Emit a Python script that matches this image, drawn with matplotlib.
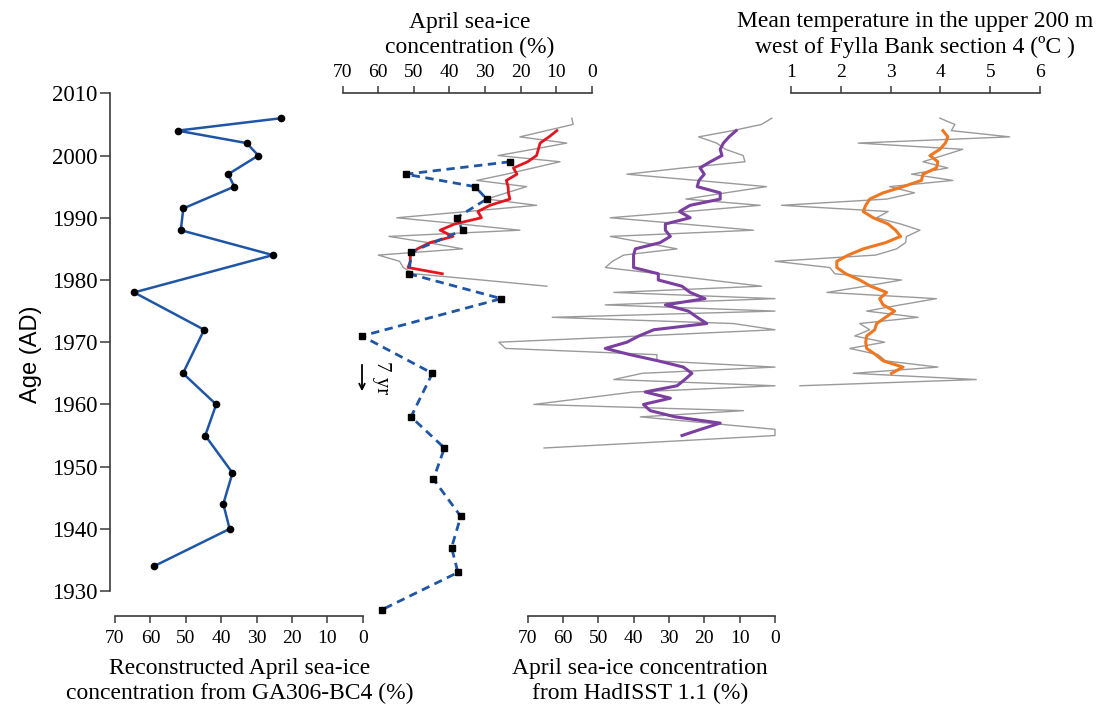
import numpy as np
import matplotlib.pyplot as plt

# GA306-BC4 reconstructed April sea-ice concentration (%)
recon_years = [2006, 2004, 2002, 2000, 1997, 1995, 1991.5, 1988, 1984, 1978,
               1972, 1965, 1960, 1955, 1949, 1944, 1940, 1934]
recon_ice = [23, 52.3, 32.8, 29.5, 38, 36.3, 50.7, 51.4, 25.4, 64.6,
             44.8, 50.8, 41.4, 44.5, 36.8, 39.4, 37.6, 59]
lag = 7  # years the record is shifted down in the middle panel

# April sea-ice concentration (%), local series, with running mean
ice_years = np.arange(1979, 2007)
ice_local = [12.6, 31, 50, 53, 54, 60, 36.3, 46, 57, 20.2, 37, 54.8, 35, 15.5,
             29.5, 24, 18.3, 32.3, 24, 16.5, 8.9, 26.3, 16.5, 7.0, 20.2, 12.7, 5.2, 5.6]
smooth_years = np.arange(1981, 2005)
ice_local_smooth = [42, 51.6, 51, 51, 49, 45.5, 39, 42.6, 38.5, 31, 32, 28.6,
                    23, 23.4, 23.5, 24, 21, 22, 18, 15.5, 15, 14.5, 12, 9.8]

# HadISST 1.1 April sea-ice concentration (%), with running mean
had_years = np.arange(1953, 2007)
had_ice = [65.3, 32, 0, 0, 19, 38.1, 8.9, 68.2, 54, 40, 0, 45.6, 37.6, 0, 33.4,
           33.4, 76.2, 78.1, 38, 0, 11.8, 63, 0, 48, 0, 45.6, 3.8, 18.5, 33, 48,
           46, 42.8, 27.7, 37, 46.6, 6.1, 26, 46.6, 25, 4.2, 25.2, 14, 2.4, 22,
           41.9, 26, 8.5, 9, 14, 16.5, 21.6, 12, 3.8, 0.9]
had_smooth_years = np.arange(1955, 2005)
had_smooth = [26.3, 21, 15.5, 28.2, 35.3, 37.2, 29.6, 36.7, 27.7, 25.5, 23.5, 25.9,
              33, 41, 48, 41.9, 38.5, 34.3, 19.3, 22, 24.5, 31, 19.8, 24, 26.3, 33,
              33, 40, 40, 40, 39.5, 32.5, 29.6, 31, 31, 24, 27, 24, 15.5, 15.5,
              22, 21.5, 20, 21.2, 18.3, 15, 15.5, 14.6, 13, 11]

# Mean temperature 0-200 m, Fylla Bank section 4 (deg C), with running mean
temp_years = np.arange(1963, 2007)
temp = [1.18, 4.72, 2.25, 3.95, 2.9, 2.75, 2.18, 2.88, 2.28, 2.58, 2.38, 3.55,
        2.52, 3.2, 3.92, 1.72, 2.5, 3.22, 1.88, 1.78, 0.68, 2.7, 3.12, 3.3, 3.32,
        3.59, 3.2, 2.72, 2.95, 0.81, 2.92, 3.48, 2.98, 4.25, 3.42, 4.15, 3.65,
        4.05, 4.45, 2.35, 5.39, 4.22, 4.29, 3.99]
temp_smooth_years = np.arange(1965, 2005)
temp_smooth = [3.02, 3.25, 2.85, 2.7, 2.52, 2.5, 2.52, 2.68, 2.72, 2.9, 3.08, 2.85,
               2.78, 2.92, 2.6, 2.38, 2.1, 1.92, 1.92, 2.15, 2.45, 2.9, 3.2, 3.1,
               2.95, 2.65, 2.45, 2.5, 2.58, 2.85, 3.25, 3.62, 3.65, 3.92, 3.95,
               3.79, 3.99, 4.1, 4.15, 4.05]

year_ticks = np.arange(1930, 2011, 10)
ice_ticks = np.arange(0, 71, 10)
temp_ticks = np.arange(1, 7)

serif = 'Liberation Serif'
sans = 'Liberation Sans'
spine_col = '#3a3a3a'
gray = '#9a9a9a'

W, H = 1115, 705
fig = plt.figure(figsize=(W / 100, H / 100), dpi=100)

Y_TOP, Y_BOT = 93.3, 616.0   # pixel rows of 2010 and 1926


def add_panel(px_left, px_right, ref_px, ref_vals):
    (p0, p1), (v0, v1) = ref_px, ref_vals
    s = (v1 - v0) / (p1 - p0)
    ax = fig.add_axes([px_left / W, 1 - Y_BOT / H,
                       (px_right - px_left) / W, (Y_BOT - Y_TOP) / H])
    ax.set_xlim(v0 + (px_left - p0) * s, v0 + (px_right - p0) * s)
    ax.set_ylim(1926, 2010)
    ax.patch.set_visible(False)
    for side in ax.spines:
        ax.spines[side].set_visible(False)
        ax.spines[side].set_color(spine_col)
        ax.spines[side].set_linewidth(1.2)
    ax.tick_params(colors=spine_col, width=1.1, length=5, labelcolor='black')
    ax.set_yticks([])
    return ax


def xaxis_style(ax, where, ticks, label):
    ax.spines[where].set_visible(True)
    ax.spines[where].set_bounds(ticks[0], ticks[-1])
    ax.set_xticks(ticks)
    ax.set_xticklabels([str(t) for t in ticks], fontfamily=serif, fontsize=14)
    if where == 'top':
        ax.xaxis.tick_top()
        ax.xaxis.set_label_position('top')
        ax.tick_params(axis='x', pad=4)
        pad = 8
    else:
        ax.tick_params(axis='x', pad=5)
        pad = 8
    ax.set_xlabel(label, fontfamily=serif, fontsize=17, linespacing=1.22, labelpad=pad)


# left: reconstruction
ax1 = add_panel(110, 370, (115, 362.7), (70, 0))
ax1.spines['left'].set_visible(True)
ax1.spines['left'].set_bounds(1930, 2010)
ax1.set_yticks(year_ticks)
ax1.set_yticklabels([str(y) for y in year_ticks], fontfamily=serif, fontsize=16.5)
ax1.tick_params(axis='y', length=7, pad=2)
ax1.set_ylabel('Age (AD)', fontfamily=sans, fontsize=17, labelpad=7)
xaxis_style(ax1, 'bottom', ice_ticks,
            'Reconstructed April sea-ice\nconcentration from GA306-BC4 (%)')
ax1.plot(recon_ice, recon_years, color='#1f55a5', lw=1.8, marker='o', ms=4.5,
         mfc='black', mec='black', clip_on=False)

# middle: local sea-ice with shifted reconstruction
ax2 = add_panel(340, 600, (342.7, 591.7), (70, 0))
xaxis_style(ax2, 'top', ice_ticks, 'April sea-ice\nconcentration (%)')
ax2.plot(ice_local, ice_years, color=gray, lw=1.0, clip_on=False, zorder=2)
ax2.plot(ice_local_smooth, smooth_years, color='#e3161f', lw=2.0, clip_on=False, zorder=3)
ax2.plot(recon_ice, np.array(recon_years) - lag, color='#1f55a5', lw=2.0,
         ls=(0, (3, 2)), marker='s', ms=4.5, mfc='black', mec='black',
         clip_on=False, zorder=4)

# HadISST panel
ax3 = add_panel(490, 790, (527.5, 775), (70, 0))
xaxis_style(ax3, 'bottom', ice_ticks, 'April sea-ice concentration\nfrom HadISST 1.1 (%)')
ax3.plot(had_ice, had_years, color=gray, lw=1.0, clip_on=False, zorder=2)
ax3.plot(had_smooth, had_smooth_years, color='#7b3fa0', lw=2.2, clip_on=False, zorder=3)

# temperature panel
ax4 = add_panel(770, 1060, (791, 1040), (1, 6))
xaxis_style(ax4, 'top', temp_ticks,
            'Mean temperature in the upper 200 m\nwest of Fylla Bank section 4 (ºC )')
ax4.plot(temp, temp_years, color=gray, lw=1.0, clip_on=False, zorder=2)
ax4.plot(temp_smooth, temp_smooth_years, color='#ee7722', lw=2.2, clip_on=False, zorder=3)

# 7 yr shift marker
ax2.annotate('', xy=(362, H - 394), xytext=(362, H - 362), xycoords='figure pixels',
             textcoords='figure pixels',
             arrowprops=dict(arrowstyle='->', lw=1.3, color='black'))
fig.text(381 / W, 1 - 378 / H, '7 yr', rotation=-90, ha='center', va='center',
         fontfamily=serif, fontsize=15)

fig.savefig('out.png', dpi=100)
